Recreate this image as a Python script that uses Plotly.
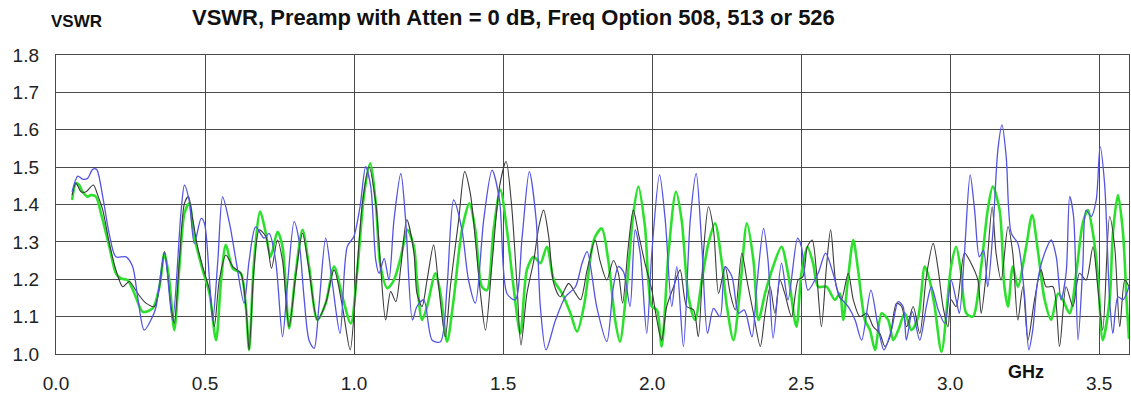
import plotly.graph_objects as go

# ---------------- data ----------------
blue_x = [0.054,0.073,0.089,0.106,0.123,0.136,0.157,0.179,0.201,0.235,0.257,0.274,0.296,0.324,0.336,0.364,0.391,0.419,0.431,0.447,0.464,0.487,0.498,0.515,0.526,0.543,0.559,0.582,0.604,
          0.631,0.648,0.670,0.698,0.715,0.737,0.760,0.776,0.799,0.815,0.832,0.849,0.866,0.882,0.905,0.927,0.953,0.977,0.999,1.020,1.039,1.056,1.073,1.084,1.101,1.117,1.134,1.157,1.173,1.196,
          1.211,1.234,1.262,1.290,1.312,1.334,1.362,1.384,1.407,1.435,1.463,1.488,1.513,1.541,1.564,1.588,1.611,1.625,1.644,1.676,1.709,1.743,1.765,1.782,
          1.814,1.848,1.870,1.887,1.904,1.926,1.943,1.960,1.982,1.999,2.025,2.044,2.066,2.083,2.105,2.128,2.148,2.167,2.186,2.206,2.228,2.245,2.268,2.290,2.309,2.335,2.351,2.374,
          2.389,2.406,2.434,2.456,2.488,2.501,2.523,2.557,2.582,2.607,2.630,2.658,2.681,2.703,2.734,2.758,2.778,2.803,2.826,2.842,2.853,2.873,2.898,2.920,2.937,2.960,2.982,
          3.003,3.020,3.031,3.048,3.067,3.082,3.098,3.112,3.126,3.143,3.160,3.174,3.188,3.205,3.227,3.249,3.264,3.277,3.294,3.317,3.339,3.356,3.372,3.389,3.401,3.414,3.429,3.445,3.456,3.473,3.490,3.503,3.518,3.535,3.546,3.563,3.580,3.600]
blue_y = [1.434,1.476,1.468,1.470,1.494,1.494,1.420,1.320,1.260,1.260,1.234,1.153,1.064,1.100,1.127,1.270,1.090,1.376,1.452,1.410,1.296,1.363,1.350,1.198,1.090,1.250,1.420,1.350,1.250,
          1.136,1.250,1.340,1.310,1.323,1.250,1.046,1.180,1.354,1.305,1.153,1.037,1.015,1.127,1.310,1.190,1.055,1.287,1.314,1.394,1.501,1.448,1.250,1.216,1.256,1.198,1.359,1.483,1.359,1.091,
          1.127,1.145,1.037,1.033,1.180,1.412,1.332,1.198,1.136,1.359,1.492,1.412,1.162,1.145,1.314,1.488,1.359,1.127,1.011,1.091,1.153,1.180,1.243,1.274,
          1.127,1.033,1.180,1.234,1.220,1.127,1.332,1.270,1.055,1.270,1.479,1.359,1.127,1.234,1.020,1.359,1.483,1.287,1.055,1.122,1.100,1.234,1.207,1.109,1.118,1.046,1.180,1.336,
          1.250,1.042,1.243,1.145,1.310,1.287,1.171,1.216,1.270,1.216,1.153,1.127,1.091,1.037,1.171,1.073,1.011,1.064,1.140,1.127,1.037,1.113,1.037,1.127,1.180,1.118,1.082,
          1.198,1.145,1.109,1.270,1.479,1.385,1.260,1.278,1.180,1.323,1.546,1.613,1.528,1.323,1.296,1.162,1.011,1.064,1.198,1.270,1.305,1.260,1.145,1.216,1.421,1.368,1.037,1.234,1.385,1.368,1.412,1.555,1.457,1.145,1.055,1.153,1.145,1.180]

green_x = [0.054,0.067,0.078,0.089,0.106,0.117,0.134,0.151,0.179,0.201,0.218,0.240,0.263,0.291,0.324,0.347,0.364,0.380,0.397,0.414,0.431,0.447,0.464,0.492,0.515,0.537,0.554,0.570,0.593,
           0.620,0.637,0.648,0.664,0.685,0.704,0.720,0.743,0.760,0.782,0.804,0.827,0.849,0.877,0.905,0.933,0.961,0.989,1.011,1.034,1.054,1.073,1.089,1.112,1.134,1.157,1.179,1.201,
           1.211,1.228,1.245,1.273,1.290,1.312,1.334,1.362,1.387,1.407,1.429,1.446,1.468,1.491,1.513,1.535,1.558,1.580,1.603,1.625,1.647,1.670,1.698,1.726,1.748,1.771,1.799,
           1.809,1.831,1.853,1.876,1.892,1.915,1.937,1.954,1.976,1.999,2.016,2.032,2.055,2.080,2.099,2.122,2.144,2.167,2.189,2.211,2.234,2.251,2.273,2.296,2.318,2.340,2.357,2.379,
           2.406,2.434,2.456,2.484,2.501,2.521,2.540,2.557,2.585,2.613,2.630,2.641,2.658,2.675,2.691,2.714,2.731,2.748,2.770,2.792,2.809,2.826,2.848,2.870,2.893,2.915,2.931,2.948,2.971,
           3.003,3.020,3.037,3.054,3.076,3.104,3.126,3.143,3.166,3.182,3.194,3.210,3.227,3.255,3.275,3.294,3.317,3.339,3.362,3.378,3.401,3.423,3.445,3.462,3.479,3.495,3.512,3.535,3.546,3.563,3.580,3.592,3.600]
green_y = [1.412,1.457,1.452,1.434,1.421,1.425,1.421,1.376,1.287,1.216,1.202,1.198,1.162,1.113,1.122,1.180,1.270,1.198,1.064,1.234,1.376,1.403,1.314,1.225,1.162,1.037,1.198,1.292,1.229,
           1.216,1.127,1.011,1.243,1.381,1.323,1.260,1.327,1.287,1.069,1.216,1.332,1.234,1.091,1.136,1.234,1.153,1.082,1.225,1.430,1.510,1.403,1.234,1.176,1.198,1.260,1.332,1.287,
           1.198,1.091,1.127,1.216,1.162,1.033,1.145,1.332,1.403,1.332,1.180,1.171,1.332,1.439,1.332,1.180,1.055,1.225,1.260,1.243,1.287,1.198,1.162,1.109,1.060,1.127,1.287,
           1.314,1.336,1.250,1.091,1.033,1.180,1.376,1.448,1.341,1.127,1.118,1.020,1.270,1.434,1.359,1.153,1.091,1.198,1.296,1.350,1.243,1.127,1.037,1.180,1.350,1.250,1.091,1.162,
           1.234,1.287,1.216,1.073,1.216,1.287,1.243,1.180,1.180,1.145,1.162,1.091,1.207,1.305,1.225,1.091,1.064,1.011,1.109,1.091,1.037,1.064,1.109,1.064,1.100,1.234,1.198,1.127,1.006,
           1.234,1.287,1.216,1.109,1.100,1.234,1.385,1.448,1.385,1.180,1.127,1.234,1.180,1.287,1.372,1.278,1.145,1.091,1.162,1.145,1.109,1.216,1.350,1.385,1.323,1.216,1.037,1.145,1.323,1.425,1.323,1.140,1.040]

black_x = [0.054,0.067,0.084,0.101,0.125,0.140,0.157,0.179,0.201,0.224,0.246,0.274,0.302,0.330,0.347,0.364,0.386,0.397,0.414,0.431,0.444,0.459,0.475,0.492,0.515,0.531,0.548,0.570,0.593,
           0.620,0.637,0.648,0.664,0.682,0.704,0.723,0.743,0.760,0.782,0.804,0.827,0.849,0.877,0.905,0.933,0.961,0.987,1.006,1.028,1.050,1.073,1.089,1.106,1.123,1.140,1.157,1.177,1.201,
           1.211,1.228,1.245,1.267,1.284,1.306,1.323,1.351,1.371,1.390,1.407,1.424,1.441,1.463,1.488,1.510,1.528,1.547,1.560,1.580,1.603,1.620,1.636,1.653,1.670,1.692,1.720,1.743,1.760,1.782,
           1.809,1.825,1.848,1.870,1.887,1.901,1.920,1.937,1.954,1.976,1.999,2.016,2.032,2.049,2.072,2.094,2.116,2.139,2.155,2.172,2.189,2.206,2.223,2.245,2.262,2.279,2.301,2.318,2.340,2.363,2.379,
           2.396,2.412,2.429,2.445,2.468,2.490,2.506,2.521,2.537,2.551,2.568,2.585,2.599,2.618,2.635,2.658,2.675,2.697,2.720,2.742,2.764,2.781,2.798,2.820,2.837,2.854,2.876,2.898,2.920,2.943,2.960,2.976,2.993,
           3.003,3.020,3.048,3.070,3.093,3.104,3.121,3.141,3.154,3.171,3.194,3.210,3.227,3.244,3.261,3.283,3.305,3.322,3.345,3.367,3.389,3.412,3.434,3.456,3.479,3.495,3.512,3.535,3.552,3.569,3.586,3.600]
black_y = [1.425,1.457,1.434,1.434,1.452,1.425,1.385,1.296,1.225,1.180,1.194,1.162,1.136,1.127,1.180,1.274,1.127,1.082,1.250,1.403,1.421,1.359,1.287,1.234,1.171,1.073,1.198,1.265,1.234,
           1.216,1.127,1.011,1.225,1.332,1.314,1.229,1.305,1.250,1.073,1.207,1.323,1.225,1.091,1.136,1.225,1.127,1.011,1.180,1.403,1.501,1.403,1.234,1.091,1.167,1.140,1.234,1.359,1.270,
           1.162,1.127,1.198,1.292,1.180,1.046,1.180,1.359,1.488,1.430,1.305,1.162,1.064,1.243,1.448,1.515,1.403,1.180,1.024,1.162,1.250,1.341,1.385,1.314,1.189,1.153,1.189,1.162,1.145,1.225,
           1.305,1.250,1.198,1.250,1.216,1.136,1.287,1.385,1.323,1.243,1.171,1.091,1.037,1.127,1.180,1.225,1.127,1.118,1.046,1.270,1.394,1.332,1.162,1.234,1.162,1.118,1.270,1.198,1.109,1.020,1.109,
           1.180,1.109,1.198,1.162,1.100,1.198,1.207,1.287,1.305,1.225,1.073,1.234,1.332,1.180,1.145,1.216,1.145,1.100,1.109,1.073,1.055,1.020,1.046,1.136,1.127,1.073,1.127,1.055,1.207,1.296,1.225,1.127,1.073,
           1.145,1.127,1.270,1.243,1.198,1.109,1.216,1.394,1.270,1.198,1.341,1.270,1.091,1.180,1.037,1.145,1.225,1.180,1.180,1.020,1.180,1.127,1.216,1.198,1.287,1.180,1.064,1.368,1.287,1.073,1.198,1.180]

x_ticks = [0.0, 0.5, 1.0, 1.5, 2.0, 2.5, 3.0, 3.5]
x_tick_labels = ["0.0", "0.5", "1.0", "1.5", "2.0", "2.5", "3.0", "3.5"]
y_ticks = [1.0, 1.1, 1.2, 1.3, 1.4, 1.5, 1.6, 1.7, 1.8]
y_tick_labels = ["1.0", "1.1", "1.2", "1.3", "1.4", "1.5", "1.6", "1.7", "1.8"]

title_text = "VSWR, Preamp with Atten = 0 dB, Freq Option 508, 513 or 526"
y_title = "VSWR"
x_title = "GHz"

# ---------------- figure ----------------
W, H = 1131, 400
ML, MR, MT, MB = 56, 2, 55, 46
PW, PH = W - ML - MR, H - MT - MB

fig = go.Figure()
fig.add_trace(go.Scatter(x=green_x, y=green_y, mode="lines", name="green",
                         line=dict(color="#2ee02e", width=2.6, shape="spline", smoothing=0.8)))
fig.add_trace(go.Scatter(x=black_x, y=black_y, mode="lines", name="black",
                         line=dict(color="#3a3a3a", width=1.1, shape="spline", smoothing=0.8)))
fig.add_trace(go.Scatter(x=blue_x, y=blue_y, mode="lines", name="blue",
                         line=dict(color="#5454e2", width=1.3, shape="spline", smoothing=0.8)))

font_family = "Liberation Sans, Arial, sans-serif"
fig.update_layout(
    width=W, height=H,
    margin=dict(l=ML, r=MR, t=MT, b=MB, pad=0),
    paper_bgcolor="white", plot_bgcolor="white",
    showlegend=False,
    font=dict(family=font_family, color="#222222"),
    xaxis=dict(range=[0, 3.6], tickvals=x_ticks, ticktext=x_tick_labels,
               showgrid=True, gridcolor="#4a4a4a", gridwidth=1.4,
               showline=True, linecolor="#4a4a4a", linewidth=1.4, mirror=True,
               ticks="", ticklabelstandoff=12, zeroline=False,
               tickfont=dict(size=19, color="#222222")),
    yaxis=dict(range=[1.0, 1.8], tickvals=y_ticks, ticktext=y_tick_labels,
               showgrid=True, gridcolor="#4a4a4a", gridwidth=1.4,
               showline=True, linecolor="#4a4a4a", linewidth=1.4, mirror=True,
               ticks="", ticklabelstandoff=12, zeroline=False,
               tickfont=dict(size=19, color="#222222")),
)

def px_x(p):
    return (p - ML) / PW

def px_y(p):
    return (H - MB - p) / PH

fig.add_annotation(text="<b>" + title_text + "</b>", xref="paper", yref="paper",
                   x=px_x(190), y=px_y(17), xanchor="left", yanchor="middle",
                   showarrow=False, font=dict(size=22, color="#111111", family=font_family))
fig.add_annotation(text="<b>" + y_title + "</b>", xref="paper", yref="paper",
                   x=px_x(49), y=px_y(21), xanchor="left", yanchor="middle",
                   showarrow=False, font=dict(size=17, color="#111111", family=font_family))
fig.add_annotation(text="<b>" + x_title + "</b>", xref="paper", yref="paper",
                   x=px_x(1006), y=px_y(372), xanchor="left", yanchor="middle",
                   showarrow=False, font=dict(size=18, color="#111111", family=font_family))

# remove the default page margin so the figure fills the 1131x400 window exactly
fig.write_html("out.html", config={"displayModeBar": False},
               post_script="document.body.style.margin='0';document.body.style.overflow='hidden';")
